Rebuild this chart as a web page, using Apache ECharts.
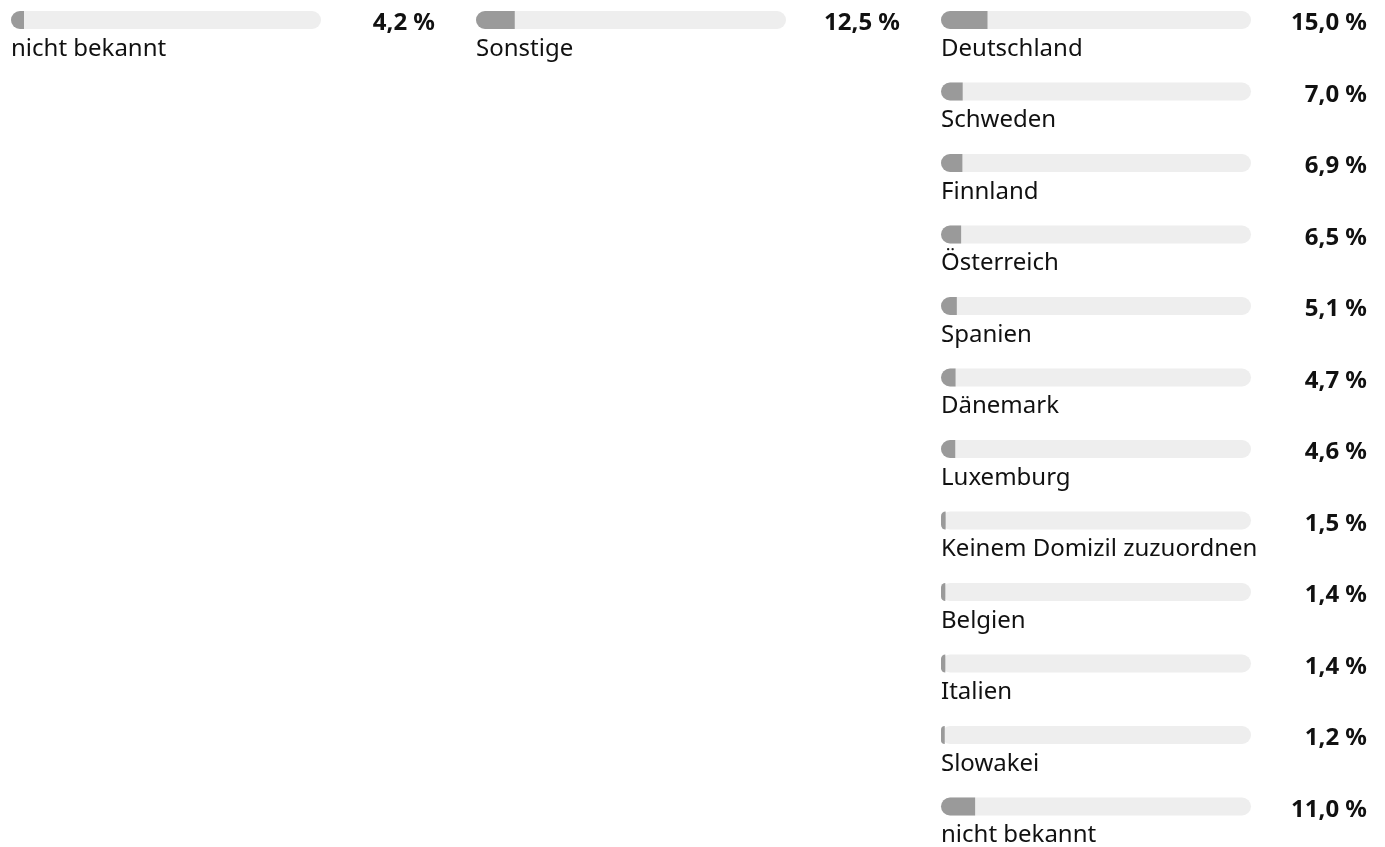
<!DOCTYPE html>
<html>
<head>
<meta charset="utf-8">
<script src="https://cdn.jsdelivr.net/npm/echarts@6/dist/echarts.min.js"></script>
<style>
html, body { margin: 0; padding: 0; background: #fff; }
#chart { width: 1385px; height: 847px; }
</style>
</head>
<body>
<div id="chart"></div>
<script>
// data per column
var col1Names = ['nicht bekannt'];
var col1Values = [4.2];
var col2Names = ['Sonstige'];
var col2Values = [12.5];
var col3Names = ['Deutschland', 'Schweden', 'Finnland', 'Österreich', 'Spanien', 'Dänemark',
	'Luxemburg', 'Keinem Domizil zuzuordnen', 'Belgien', 'Italien', 'Slowakei', 'nicht bekannt'];
var col3Values = [15.0, 7.0, 6.9, 6.5, 5.1, 4.7, 4.6, 1.5, 1.4, 1.4, 1.2, 11.0];

var FONT = '"Noto Sans", "DejaVu Sans", sans-serif';
var ROW = 71.5;

function fmt(v) {
	return v.toFixed(1).replace('.', ',') + ' %';
}

var columns = [
	{ names: col1Names, values: col1Values, left: 11, valueRight: 435 },
	{ names: col2Names, values: col2Values, left: 476, valueRight: 900 },
	{ names: col3Names, values: col3Values, left: 941, valueRight: 1367 }
];

var option = {
	animation: false,
	backgroundColor: '#fff',
	grid: [],
	xAxis: [],
	yAxis: [],
	series: []
};

for (var i = 0; i < columns.length; i++) {
	var c = columns[i];
	option.grid.push({
		left: c.left,
		top: 20 - ROW / 2,
		width: 310,
		height: ROW * c.names.length,
		outerBoundsMode: 'none',
		containLabel: false
	});
	option.xAxis.push({
		gridIndex: i,
		type: 'value',
		min: 0,
		max: 100,
		show: false
	});
	option.yAxis.push({
		gridIndex: i,
		type: 'category',
		data: c.names,
		inverse: true,
		show: false
	});
	// value labels on the right, pushed a bit below the bar centre
	option.yAxis.push({
		gridIndex: i,
		type: 'category',
		position: 'right',
		data: c.values.map(fmt),
		inverse: true,
		axisLine: { show: false },
		axisTick: { show: false },
		splitLine: { show: false },
		axisLabel: {
			margin: c.valueRight - c.left - 310,
			align: 'right',
			verticalAlign: 'top',
			lineHeight: 7,
			fontFamily: FONT,
			fontWeight: 'bold',
			fontSize: 24,
			color: '#111'
		}
	});
	option.series.push({
		type: 'bar',
		xAxisIndex: i,
		yAxisIndex: i * 2,
		data: c.values,
		barWidth: 18,
		showBackground: true,
		backgroundStyle: {
			color: '#eeeeee',
			borderRadius: 9
		},
		itemStyle: {
			color: '#9a9a9a',
			borderRadius: [9, 0, 0, 9]
		},
		label: {
			show: true,
			position: [0, 26],
			formatter: '{b}',
			fontFamily: FONT,
			fontSize: 24,
			color: '#111',
			align: 'left',
			verticalAlign: 'top'
		}
	});
}

var myChart = echarts.init(document.getElementById('chart'));
myChart.setOption(option);
window.addEventListener('resize', function() {
	myChart.resize();
});
</script>
</body>
</html>
